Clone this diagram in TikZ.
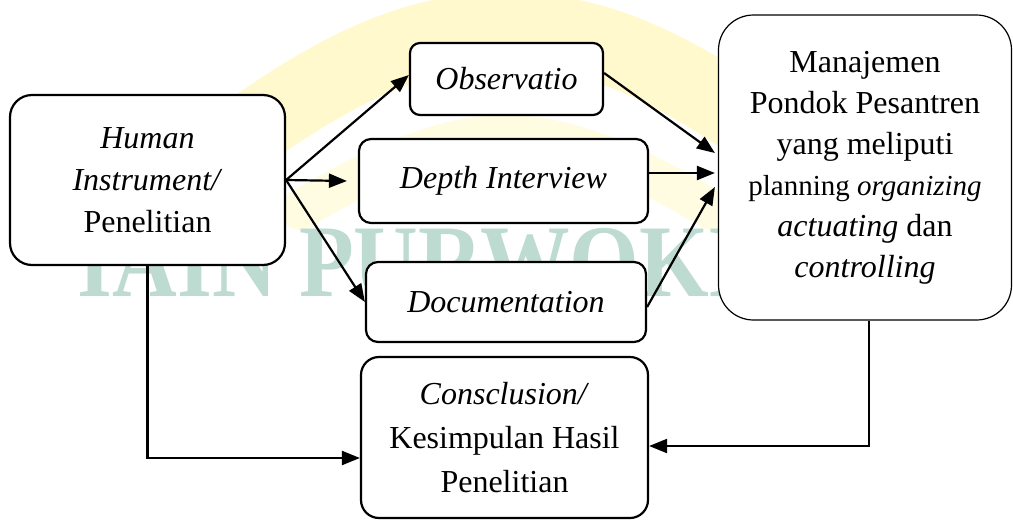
\documentclass[tikz,border=0pt]{standalone}
\usepackage{fontspec}
\setmainfont{Liberation Serif}
\usetikzlibrary{arrows.meta,calc}

\definecolor{wmteal}{RGB}{190,219,209}
\definecolor{wmyellow}{RGB}{255,249,205}
\definecolor{wmyellowlight}{RGB}{255,252,226}

\tikzset{
  box/.style={draw=black, fill=white, line width=2.2pt, align=center,
              inner sep=0pt, font=\fontsize{32}{42}\selectfont},
  link/.style={line width=2.2pt, -{Triangle[length=18pt,width=14pt]}},
}

\begin{document}
\begin{tikzpicture}[x=1pt, y=-1pt]
\useasboundingbox (0,0) rectangle (1013,520);

% faint background mark
\draw[wmyellow, line width=75pt, line join=round, line cap=round]
  (160,200) .. controls (330,60) and (420,30) .. (506,30)
            .. controls (592,30) and (682,60) .. (852,200);
\draw[wmyellowlight, line width=40pt, line join=round, line cap=round]
  (300,210) .. controls (400,150) and (460,135) .. (506,135)
            .. controls (552,135) and (612,150) .. (712,210);
\node[wmteal, font=\fontsize{103}{103}\bfseries\selectfont, anchor=base,
      xscale=0.87]
  (mark) at (518,296) {IAIN PURWOKERTO};

% boxes
\node[box, rounded corners=22pt, minimum width=275pt, minimum height=170pt]
  (human) at (147.5,180) {\textit{Human}\\\textit{Instrument/}\\Penelitian};
\node[box, rounded corners=10pt, minimum width=193pt, minimum height=72pt]
  (obs) at (506.5,79) {\textit{Observatio}};
\node[box, rounded corners=12pt, minimum width=289pt, minimum height=84pt]
  (depth) at (503.5,181) {\textit{Depth Interview}};
\node[box, rounded corners=12pt, minimum width=280pt, minimum height=80pt]
  (doc) at (506,302) {\textit{Documentation}};
\node[box, rounded corners=18pt, minimum width=287pt, minimum height=161pt,
      font=\fontsize{32}{44}\selectfont]
  (concl) at (504.5,437.5) {\textit{Consclusion/}\\Kesimpulan Hasil\\Penelitian};
\node[box, line width=1.2pt, rounded corners=35pt, minimum width=293pt,
      minimum height=305pt, font=\fontsize{32}{41}\selectfont]
  (man) at (865,167.5)
  {Manajemen\\Pondok Pesantren\\yang meliputi\\
   {\fontsize{29}{41}\selectfont planning \textit{organizing}}\\
   \textit{actuating} dan\\\textit{controlling}};

% connectors
\draw[link] (human.east) -- ([yshift=4pt]obs.west);
\draw[link] (human.east) -- ([xshift=-11pt]depth.west);
\draw[link] (human.east) -- (doc.west);
\draw[link] ([yshift=6pt]obs.east) -- ([xshift=-3pt,yshift=14.5pt]man.west);
\draw[link] ([yshift=8pt]depth.east) -- ([xshift=-3pt,yshift=-5.5pt]man.west);
\draw[link] ([yshift=-5pt]doc.east) -- ([xshift=-3pt,yshift=-19.5pt]man.west);
\draw[link] (human.south) |- ([yshift=-20.5pt]concl.west);
\draw[link] ([xshift=4pt]man.south) |- ([yshift=-8.5pt]concl.east);
\end{tikzpicture}
\end{document}
